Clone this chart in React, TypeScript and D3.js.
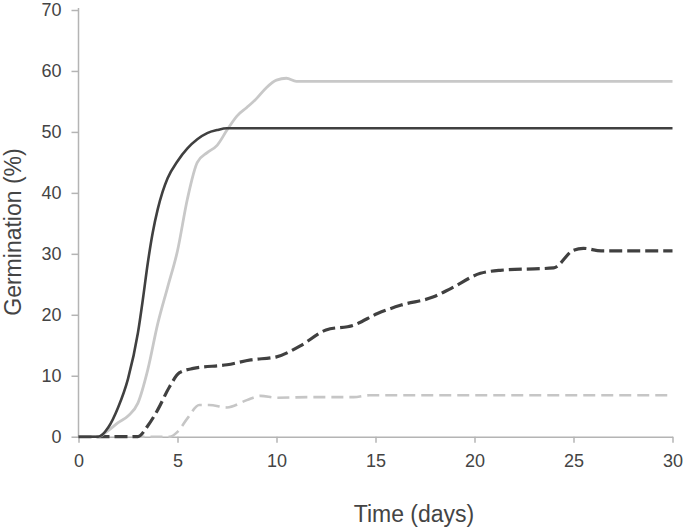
import { useEffect, useRef } from 'react';
import * as d3 from 'd3';

// days vs germination (%)
const darkSolidT = [0, 1, 1.5, 2, 2.5, 3, 3.25, 3.5, 3.75, 4, 4.25, 4.5, 5, 5.5, 6, 6.5, 7, 7.5, 30];
const darkSolidV = [0, 0, 1.5, 4.8, 9.5, 17, 22.5, 28.5, 33.5, 37.3, 40.2, 42.4, 45.2, 47.3, 48.8, 49.8, 50.3, 50.6, 50.6];

const lightSolidT = [0, 1, 1.5, 2, 2.5, 3, 3.5, 4, 4.5, 5, 5.5, 6, 6.5, 7, 7.5, 8, 8.5, 9, 9.5, 10, 10.5, 11, 12, 30];
const lightSolidV = [0, 0, 1, 2.3, 3.4, 5.5, 11, 18.5, 24.5, 30.5, 39, 45, 46.6, 47.8, 50.3, 52.6, 54, 55.5, 57.3, 58.5, 58.8, 58.3, 58.3, 58.3];

const darkDashT = [0, 3, 3.5, 4, 4.6, 5.1, 5.8, 7.5, 8.7, 10, 11.2, 12.5, 13.9, 15.1, 16.3, 17.9, 18.8, 20.3, 21.3, 24, 25, 25.5, 26.4, 30];
const darkDashV = [0, 0, 1.8, 4.4, 8.2, 10.5, 11.2, 11.8, 12.6, 13.1, 14.9, 17.5, 18.3, 20.2, 21.6, 22.9, 24.3, 26.8, 27.3, 27.7, 30.6, 30.9, 30.5, 30.5];

const lightDashT = [0, 4.6, 5, 5.5, 6.1, 6.6, 7.5, 8.5, 9.2, 10, 12, 13.9, 14.7, 30];
const lightDashV = [0, 0, 0.8, 3, 5.2, 5.2, 4.8, 6, 6.7, 6.4, 6.5, 6.5, 6.8, 6.8];

const xTicks = [0, 5, 10, 15, 20, 25, 30];
const yTicks = [0, 10, 20, 30, 40, 50, 60, 70];

const series = [
  { t: lightDashT, v: lightDashV, color: '#c6c6c6', width: 2.6, dash: '12,6' },
  { t: darkDashT, v: darkDashV, color: '#404040', width: 3.2, dash: '13,5' },
  { t: lightSolidT, v: lightSolidV, color: '#c8c8c8', width: 2.8, dash: null },
  { t: darkSolidT, v: darkSolidV, color: '#404040', width: 2.6, dash: null },
];

const App = () => {
  const svgRef = useRef<SVGSVGElement>(null);
  const width = 685;
  const height = 530;

  useEffect(() => {
    if (!svgRef.current) return;
    const svg = d3.select(svgRef.current);
    svg.selectAll('*').remove();

    const x = d3.scaleLinear().domain([0, 30]).range([78.5, 672.5]);
    const y = d3.scaleLinear().domain([0, 70]).range([436.7, 10]);
    const font = 'Liberation Sans, Arial, sans-serif';
    const axisColor = '#b4b4b4';
    const textColor = '#444';

    // axes
    const xAxis = svg
      .append('g')
      .attr('transform', `translate(0,${y(0)})`)
      .call(d3.axisBottom(x).tickValues(xTicks).tickSize(6).tickPadding(12).tickSizeOuter(0));
    const yAxis = svg
      .append('g')
      .attr('transform', `translate(${x(0)},0)`)
      .call(d3.axisLeft(y).tickValues(yTicks).tickSize(7).tickPadding(10).tickSizeOuter(0));

    [xAxis, yAxis].forEach((a) => {
      a.select('.domain').attr('stroke', axisColor).attr('stroke-width', 1.5);
      a.selectAll('.tick line').attr('stroke', axisColor).attr('stroke-width', 1.5);
      a.selectAll('.tick text')
        .attr('fill', textColor)
        .style('font-family', font)
        .style('font-size', '18px');
    });
    // y axis goes a bit above the 70 tick
    yAxis.select('.domain').attr('d', `M0,${y(0)}V${y(70) - 2}`);

    // lines
    series.forEach((s) => {
      const pts = s.t.map((t, i) => [t, s.v[i]] as [number, number]);
      const line = d3
        .line<[number, number]>()
        .x((d) => x(d[0]))
        .y((d) => y(d[1]))
        .curve(d3.curveMonotoneX);
      svg
        .append('path')
        .datum(pts)
        .attr('d', line)
        .attr('fill', 'none')
        .attr('stroke', s.color)
        .attr('stroke-width', s.width)
        .attr('stroke-dasharray', s.dash)
        .attr('stroke-linejoin', 'round');
    });

    // axis titles
    svg
      .append('text')
      .attr('x', 414)
      .attr('y', 522)
      .attr('text-anchor', 'middle')
      .attr('fill', textColor)
      .style('font-family', font)
      .style('font-size', '23px')
      .text('Time (days)');

    svg
      .append('text')
      .attr('transform', 'rotate(-90)')
      .attr('x', -232)
      .attr('y', 20.5)
      .attr('text-anchor', 'middle')
      .attr('fill', textColor)
      .style('font-family', font)
      .style('font-size', '23px')
      .text('Germination (%)');
  }, []);

  return (
    <svg
      ref={svgRef}
      width={width}
      height={height}
      style={{ position: 'absolute', left: 0, top: 0, background: '#fff' }}
    />
  );
};

export default App;
